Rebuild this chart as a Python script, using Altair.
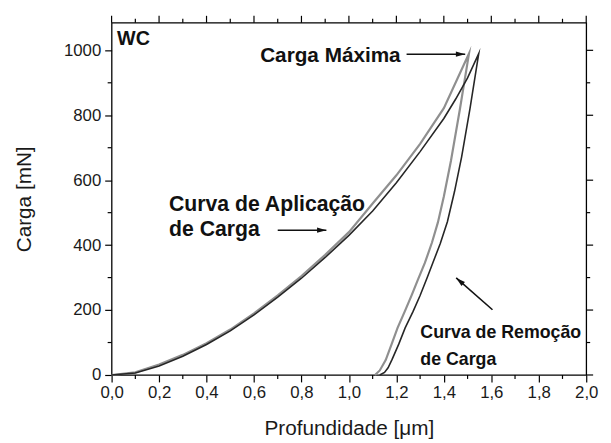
import altair as alt
import pandas as pd

# ---------------- data ----------------
# test 1 (light grey curve)
load_gray_depth = [0.0, 0.1, 0.2, 0.3, 0.4, 0.5, 0.6, 0.7, 0.8, 0.9, 1.0, 1.1, 1.2, 1.3, 1.4, 1.506]
load_gray_force = [0, 8, 32, 62, 98, 140, 190, 245, 305, 370, 440, 528, 615, 712, 822, 990]
unload_gray_depth = [1.506, 1.468, 1.43, 1.40, 1.375, 1.35, 1.32, 1.29, 1.265, 1.235, 1.205, 1.18, 1.155, 1.13, 1.11]
unload_gray_force = [990, 820, 660, 550, 470, 408, 345, 292, 247, 195, 145, 95, 46, 14, 0]

# test 2 (dark curve)
load_dark_depth = [0.0, 0.1, 0.2, 0.3, 0.4, 0.5, 0.6, 0.7, 0.8, 0.9, 1.0, 1.1, 1.2, 1.3, 1.4, 1.45, 1.5, 1.547]
load_dark_force = [0, 6, 28, 58, 94, 136, 185, 240, 298, 362, 430, 505, 592, 688, 790, 850, 915, 990]
unload_dark_depth = [1.547, 1.51, 1.475, 1.445, 1.415, 1.385, 1.355, 1.33, 1.30, 1.27, 1.237, 1.21, 1.182, 1.165, 1.15, 1.13]
unload_dark_force = [990, 820, 672, 565, 472, 405, 348, 300, 245, 195, 145, 95, 48, 22, 8, 0]

x_major = [0.0, 0.2, 0.4, 0.6, 0.8, 1.0, 1.2, 1.4, 1.6, 1.8, 2.0]
x_minor = [0.1, 0.3, 0.5, 0.7, 0.9, 1.1, 1.3, 1.5, 1.7, 1.9]
y_major = [0, 200, 400, 600, 800, 1000]
y_minor = [100, 300, 500, 700, 900]

# annotation texts
ann_text = ["WC", "Carga Máxima", "Curva de Aplicação", "de Carga", "Curva de Remoção", "de Carga"]
ann_depth = [0.023, 1.218, 0.242, 0.242, 1.301, 1.301]
ann_force = [1015, 964, 504, 428, 113, 31]
ann_size = [20, 21, 21.5, 21.5, 18, 18]
ann_align = ["left", "right", "left", "left", "left", "left"]

# arrows: tail -> head
arr_tail_depth = [1.243, 0.700, 1.605]
arr_tail_force = [988, 446, 201]
arr_head_depth = [1.490, 0.905, 1.452]
arr_head_force = [988, 446, 299]
arr_angle = [90, 90, 311]

# ---------------- build chart ----------------
W, H = 481, 357
FONT = "Liberation Sans"

rows = []
for name, d, f in [("A", load_gray_depth + unload_gray_depth[1:], load_gray_force + unload_gray_force[1:]),
                   ("B", load_dark_depth + unload_dark_depth[1:], load_dark_force + unload_dark_force[1:])]:
    for i, (dd, ff) in enumerate(zip(d, f)):
        rows.append({"series": name, "i": i, "depth": dd, "force": ff})
curves = pd.DataFrame(rows)

xs = alt.Scale(domain=[0, 2], nice=False, zero=False)
ys = alt.Scale(domain=[0, 1085], nice=False, zero=False)

xaxis = alt.Axis(values=x_major, title="Profundidade [μm]", grid=False, domain=False,
                 tickSize=7, tickColor="black", tickWidth=1.2, labelFlush=False,
                 labelExpr="replace(format(datum.value, '.1f'), '.', ',')",
                 labelFont=FONT, labelFontSize=17, labelColor="#1a1a1a", labelPadding=3,
                 titleFont=FONT, titleFontSize=21, titleFontWeight="normal",
                 titleColor="#1a1a1a", titlePadding=17)
yaxis = alt.Axis(values=y_major, title="Carga [mN]", grid=False, domain=False,
                 tickSize=7, tickColor="black", tickWidth=1.2, format="d", labelFlush=False,
                 labelFont=FONT, labelFontSize=17, labelColor="#1a1a1a", labelPadding=4,
                 titleFont=FONT, titleFontSize=21, titleFontWeight="normal",
                 titleColor="#1a1a1a", titlePadding=29)

def X(f):
    return alt.X(f, scale=xs, axis=xaxis)

def Y(f):
    return alt.Y(f, scale=ys, axis=yaxis)

lines = alt.Chart(curves).mark_line(strokeJoin="miter", strokeMiterLimit=20).encode(
    x=X("depth:Q"), y=Y("force:Q"),
    color=alt.Color("series:N", scale=alt.Scale(domain=["A", "B"], range=["#8f8f8f", "#262626"]), legend=None),
    strokeWidth=alt.StrokeWidth("series:N", scale=alt.Scale(domain=["A", "B"], range=[2.2, 1.6]), legend=None),
    order="i:Q",
)

xmaj = pd.DataFrame({"depth": x_major})
xmin = pd.DataFrame({"depth": x_minor})
ymaj = pd.DataFrame({"force": y_major})
ymin = pd.DataFrame({"force": y_minor})

def xt(df, y0, y1):
    return alt.Chart(df).mark_rule(color="black", strokeWidth=1.2).encode(
        x=X("depth:Q"), y=alt.value(y0), y2=alt.value(y1))

def yt(df, x0, x1):
    return alt.Chart(df).mark_rule(color="black", strokeWidth=1.2).encode(
        y=Y("force:Q"), x=alt.value(x0), x2=alt.value(x1))

ticks = [
    xt(xmin, H, H + 4), xt(xmaj, 0, -7), xt(xmin, 0, -4),
    yt(ymin, 0, -4), yt(ymaj, W, W + 7), yt(ymin, W, W + 4),
]

ann = pd.DataFrame({"t": ann_text, "depth": ann_depth, "force": ann_force,
                    "s": ann_size, "a": ann_align})
texts = []
for al in ["left", "right"]:
    for s in sorted(set(ann_size)):
        sub = ann[(ann.a == al) & (ann.s == s)]
        if len(sub) == 0:
            continue
        texts.append(alt.Chart(sub).mark_text(font=FONT, fontWeight="bold", fontSize=s,
                                              align=al, baseline="alphabetic", color="#111").encode(
            x=X("depth:Q"), y=Y("force:Q"), text="t:N"))

arr = pd.DataFrame({"depth": arr_tail_depth, "force": arr_tail_force,
                    "depth2": arr_head_depth, "force2": arr_head_force, "ang": arr_angle})
shafts = alt.Chart(arr).mark_rule(color="#111", strokeWidth=1.6).encode(
    x=X("depth:Q"), y=Y("force:Q"), x2="depth2:Q", y2="force2:Q")
heads = alt.Chart(arr).mark_point(shape="M0,0 L0.45,1.6 L-0.45,1.6 Z", filled=True, color="#111",
                                  opacity=1, size=140).encode(
    x=X("depth2:Q"), y=Y("force2:Q"), angle=alt.Angle("ang:Q", scale=None))

chart = alt.layer(lines, *ticks, shafts, heads, *texts).properties(
    width=W, height=H,
    autosize=alt.AutoSizeParams(type="none"),
    padding={"left": 105, "top": 12, "right": 17, "bottom": 66},
    background="white",
).configure_view(stroke="black", strokeWidth=1.3)

chart.save("out.html", embed_options={"renderer": "svg", "actions": False})
